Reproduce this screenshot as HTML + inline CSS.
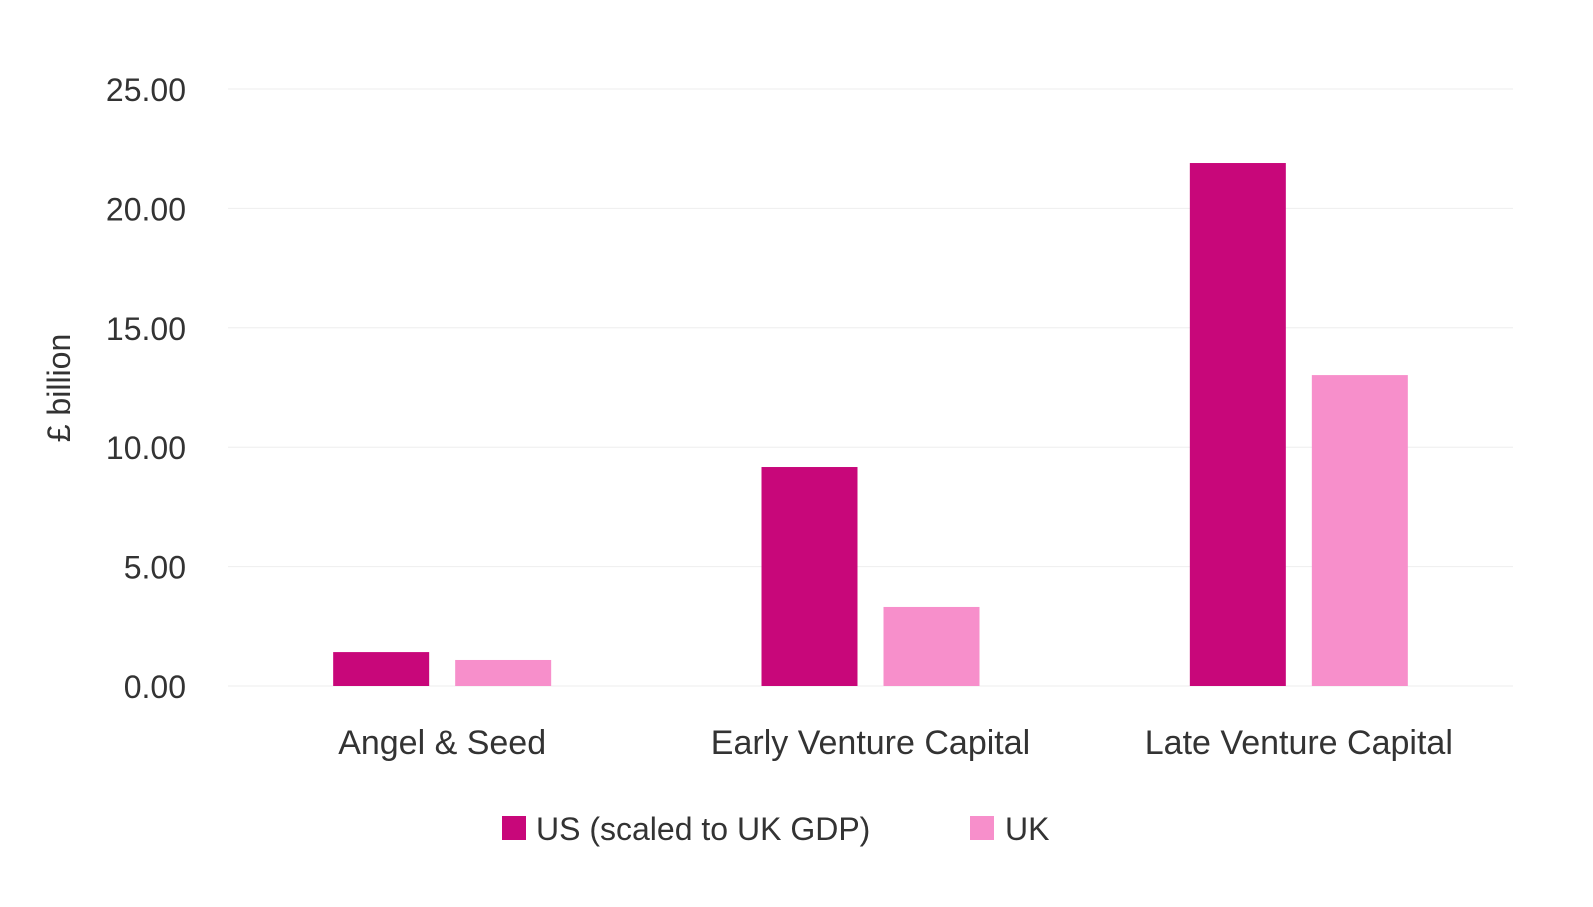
<!DOCTYPE html>
<html><head><meta charset="utf-8"><style>
body{margin:0;background:#fff;}
svg text{font-family:"Liberation Sans",sans-serif;fill:#333;}
</style></head><body>
<svg width="1593" height="902" xmlns="http://www.w3.org/2000/svg">
<g id="grid"></g><g id="bars"></g><g id="labels"></g>
<text transform="translate(70,388) rotate(-90)" text-anchor="middle" font-size="32">£ billion</text>
<g>
<rect x="502" y="816" width="24" height="24" fill="#C8077A"/>
<text x="536" y="840" font-size="32">US (scaled to UK GDP)</text>
<rect x="970" y="816" width="24" height="24" fill="#F78FCB"/>
<text x="1005" y="840" font-size="32">UK</text>
</g>
</svg>
<script>
const categories=["Angel & Seed","Early Venture Capital","Late Venture Capital"];
const usValues=[1.42,9.17,21.9];
const ukValues=[1.09,3.31,13.02];
const ticks=[0,5,10,15,20,25];
const tickLabels=["0.00","5.00","10.00","15.00","20.00","25.00"];
const NS="http://www.w3.org/2000/svg";
const x0=228,x1=1513,yBase=686,yTop=89,yMax=25;
const y=v=>yBase-(yBase-yTop)*v/yMax;
const bw=(x1-x0)/categories.length;
const cx=i=>x0+bw*(i+0.5);
function mk(tag,attrs,parent){const e=document.createElementNS(NS,tag);for(const k in attrs)e.setAttribute(k,attrs[k]);document.getElementById(parent).appendChild(e);return e;}
ticks.forEach((t,i)=>{
  const l=mk('line',{x1:x0,x2:x1,y1:y(t),y2:y(t),stroke:'#eeeeee','stroke-width':1},'grid');
  
  
  const tx=mk('text',{x:186,y:y(t)+12,'text-anchor':'end','font-size':32},'labels');
  tx.textContent=tickLabels[i];
  
  
});
categories.forEach((c,i)=>{
  const a=mk('rect',{x:cx(i)-109,y:y(usValues[i]),width:96,height:yBase-y(usValues[i]),fill:'#C8077A'},'bars');
  
  
  const b=mk('rect',{x:cx(i)+13,y:y(ukValues[i]),width:96,height:yBase-y(ukValues[i]),fill:'#F78FCB'},'bars');
  
  
  const t=mk('text',{x:cx(i),y:754,'text-anchor':'middle','font-size':34},'labels');
  t.textContent=c;
  
  
});
</script>
</body></html>
